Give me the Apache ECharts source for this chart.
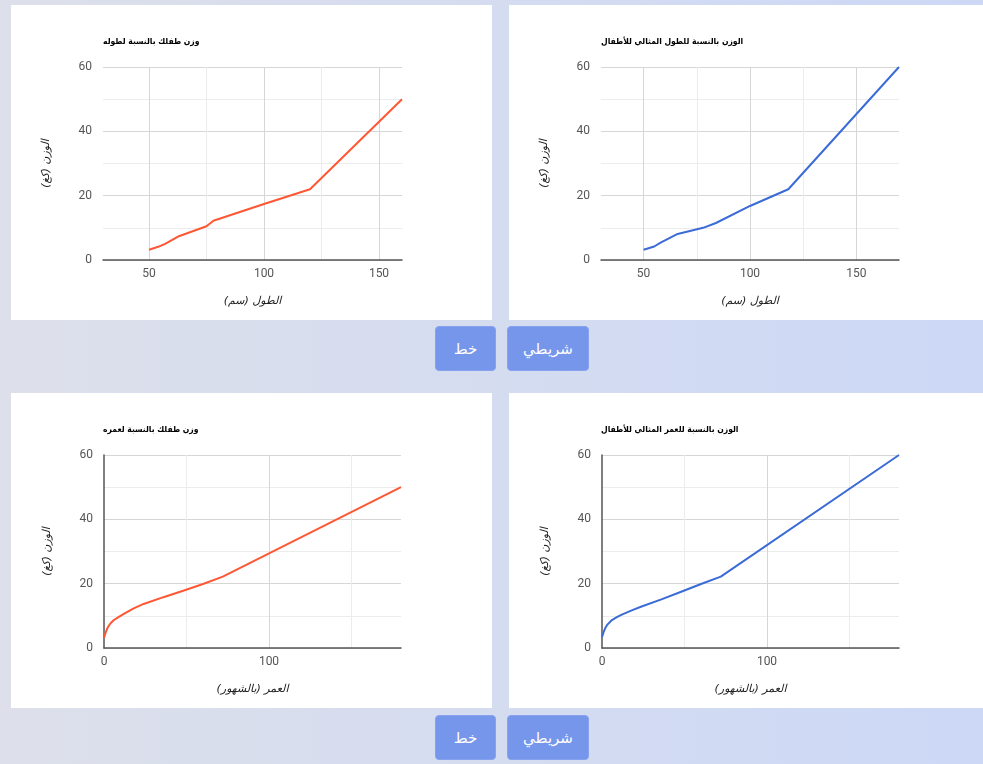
<!DOCTYPE html>
<html lang="ar">
<head>
<meta charset="utf-8">
<script src="https://cdn.jsdelivr.net/npm/echarts@6.0.0/dist/echarts.min.js"></script>
<style>
  html, body { margin: 0; padding: 0; }
  body {
    width: 983px; height: 764px; overflow: hidden; position: relative;
    background: linear-gradient(90deg, #dde0ea 0%, #ccd8f6 100%);
    font-family: "DejaVu Sans", sans-serif;
  }
  .panel { position: absolute; background: #ffffff; }
  .btn {
    position: absolute; background: #7696eb; color: #ffffff;
    border: 1px solid #86a2ee; border-radius: 4px; box-sizing: border-box;
    font-size: 15px; display: flex; align-items: center; justify-content: center;
    font-family: "DejaVu Sans", sans-serif;
  }
</style>
</head>
<body>
<div class="panel" id="c1" style="left:11px;top:5px;width:481px;height:315px;"></div>
<div class="panel" id="c2" style="left:509px;top:5px;width:474px;height:315px;"></div>
<div class="panel" id="c3" style="left:11px;top:393px;width:481px;height:315px;"></div>
<div class="panel" id="c4" style="left:509px;top:393px;width:474px;height:315px;"></div>

<div class="btn" style="left:435px;top:326px;width:61px;height:45px;">خط</div>
<div class="btn" style="left:507px;top:326px;width:82px;height:45px;">شريطي</div>
<div class="btn" style="left:435px;top:715px;width:61px;height:45px;">خط</div>
<div class="btn" style="left:507px;top:715px;width:82px;height:45px;">شريطي</div>

<script>
// ---- Data ----
const titles = [
  'وزن طفلك بالنسبة لطوله',
  'الوزن بالنسبة للطول المثالي للأطفال',
  'وزن طفلك بالنسبة لعمره',
  'الوزن بالنسبة للعمر المثالي للأطفال'
];
const yAxisName = 'الوزن (كغ)';
const xNameHeight = 'الطول (سم)';
const xNameAge = 'العمر (بالشهور)';

// Chart 1: child weight by height
const childHeightCm      = [50, 54, 57, 63, 75, 78, 100, 120, 160];
const childWeightHeight  = [3.2, 4.1, 5.0, 7.4, 10.5, 12.2, 17.4, 22, 50];

// Chart 2: ideal weight by height
const idealHeightCm      = [50, 55, 58, 66, 78, 84, 100, 118, 170];
const idealWeightHeight  = [3.2, 4.2, 5.4, 8.1, 10.0, 11.5, 16.8, 22, 60];

// Chart 3: child weight by age
const childAgeMonths     = [0, 1, 2, 3, 4, 6, 9, 12, 18, 24, 36, 48, 60, 72, 180];
const childWeightAge     = [3.1, 4.8, 6.1, 7.0, 7.7, 8.7, 9.7, 10.6, 12.3, 13.7, 15.8, 17.8, 19.9, 22.2, 50];

// Chart 4: ideal weight by age
const idealAgeMonths     = [0, 1, 2, 3, 4, 6, 9, 12, 18, 24, 36, 48, 60, 72, 180];
const idealWeightAge     = [3.4, 5.0, 6.2, 7.1, 7.7, 8.7, 9.6, 10.4, 11.7, 12.9, 15.1, 17.5, 19.9, 22.2, 60];

const orange = '#ff5733';
const blue = '#3a6bd6';

function pairs(xs, ys) { return xs.map((x, i) => [x, ys[i]]); }

function makeChart(id, cfg) {
  const chart = echarts.init(document.getElementById(id), null, { renderer: 'canvas' });
  const labelStyle = { color: '#555', fontSize: 12, fontFamily: 'Roboto, "Open Sans", sans-serif' };
  const nameStyle = { color: '#222', fontSize: 11, fontStyle: 'italic', fontFamily: '"DejaVu Sans", sans-serif' };
  const xAxis = {
    type: 'value',
    min: cfg.xMin, max: cfg.xMax,
    name: cfg.xName, nameLocation: 'middle', nameGap: 36,
    nameTextStyle: nameStyle,
    axisLine: { show: true, onZero: false, lineStyle: { color: '#555', width: 1.5 } },
    axisTick: { show: false },
    axisLabel: Object.assign({ margin: 8, showMinLabel: cfg.showMinLabel, showMaxLabel: false,
      formatter: v => (v % cfg.labelStep === 0 ? String(v) : '') }, labelStyle),
    splitLine: { show: true, showMinLine: false, showMaxLine: false, lineStyle: { color: '#d6d6d6', width: 1 } },
    minorTick: { show: false, splitNumber: 2 },
    minorSplitLine: { show: true, lineStyle: { color: '#ececec', width: 1 } }
  };
  if (cfg.xInterval) { xAxis.interval = cfg.xInterval; }
  else { xAxis.minInterval = cfg.xStep; xAxis.maxInterval = cfg.xStep; }
  const option = {
    animation: false,
    title: {
      text: cfg.title, left: cfg.titleLeft, top: 32, padding: 0,
      textStyle: { fontSize: 8.5, fontWeight: 'bold', color: '#000', fontFamily: '"DejaVu Sans Condensed", "DejaVu Sans", sans-serif' }
    },
    grid: { left: cfg.gridLeft, top: 62, width: cfg.gridWidth, height: 193, containLabel: false },
    xAxis: xAxis,
    yAxis: {
      type: 'value', min: 0, max: 60, interval: 20,
      name: yAxisName, nameLocation: 'middle', nameGap: 51, nameRotate: 90,
      nameTextStyle: nameStyle,
      axisLine: { show: cfg.yLine, lineStyle: { color: '#555', width: 1.5 } },
      axisTick: { show: false },
      axisLabel: Object.assign({ margin: 11 }, labelStyle),
      splitLine: { show: true, lineStyle: { color: '#d6d6d6', width: 1 } },
      minorTick: { show: false, splitNumber: 2 },
      minorSplitLine: { show: true, lineStyle: { color: '#ececec', width: 1 } }
    },
    series: [{
      type: 'line', data: cfg.data, showSymbol: false, symbol: 'none',
      lineStyle: { color: cfg.color, width: 2 }, itemStyle: { color: cfg.color },
      smooth: false
    }]
  };
  chart.setOption(option);
}

makeChart('c1', {
  title: titles[0], titleLeft: 92, gridLeft: 92, gridWidth: 299,
  xMin: 30, xMax: 160, xStep: 50, labelStep: 50, showMinLabel: false, yLine: false,
  xName: xNameHeight, color: orange, data: pairs(childHeightCm, childWeightHeight)
});
makeChart('c2', {
  title: titles[1], titleLeft: 92, gridLeft: 92, gridWidth: 298,
  xMin: 30, xMax: 170, xStep: 50, labelStep: 50, showMinLabel: false, yLine: false,
  xName: xNameHeight, color: blue, data: pairs(idealHeightCm, idealWeightHeight)
});
makeChart('c3', {
  title: titles[2], titleLeft: 92, gridLeft: 93, gridWidth: 297,
  xMin: 0, xMax: 180, xInterval: 100, labelStep: 100, showMinLabel: true, yLine: true,
  xName: xNameAge, color: orange, data: pairs(childAgeMonths, childWeightAge)
});
makeChart('c4', {
  title: titles[3], titleLeft: 92, gridLeft: 93, gridWidth: 297,
  xMin: 0, xMax: 180, xInterval: 100, labelStep: 100, showMinLabel: true, yLine: true,
  xName: xNameAge, color: blue, data: pairs(idealAgeMonths, idealWeightAge)
});
</script>
</body>
</html>
